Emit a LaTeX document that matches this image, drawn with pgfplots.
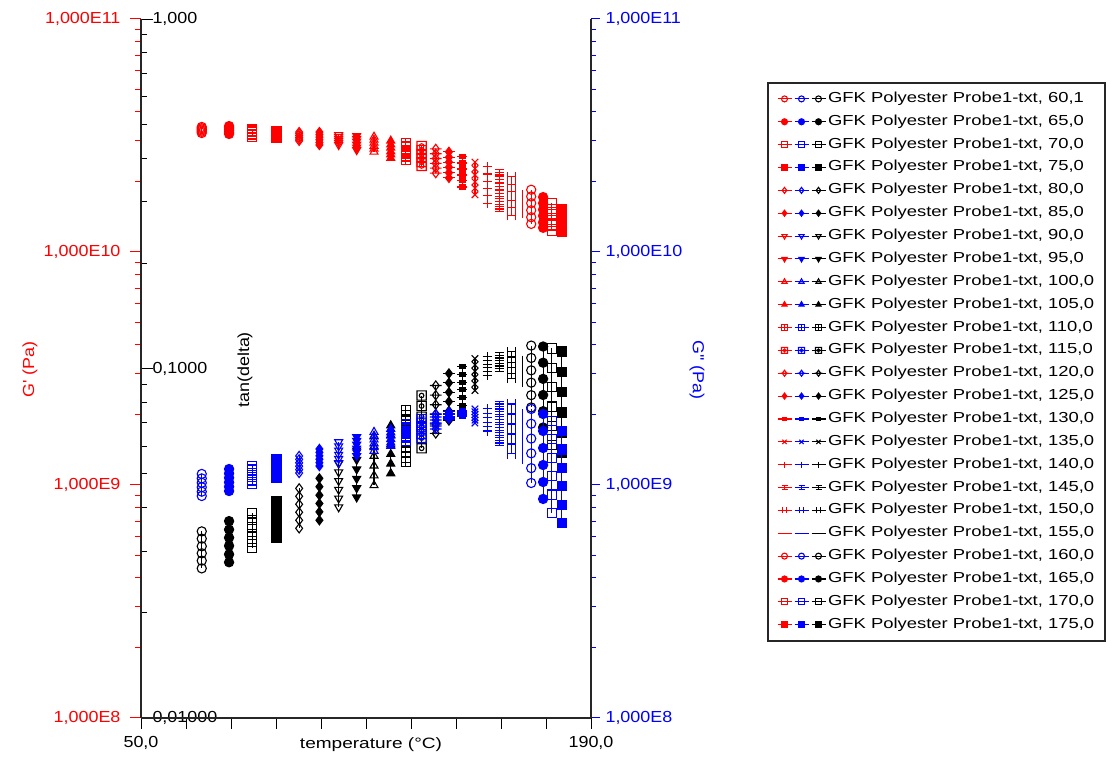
\documentclass[border=0pt]{standalone}
\usepackage{fontspec}
\setmainfont{Liberation Sans}[FakeStretch=1.12]
\newfontfamily\legfont{Liberation Sans}[FakeStretch=1.27]
\usepackage{pgfplots}
\usepackage{pgfplotstable}
\pgfplotsset{compat=1.18}

% ---- custom marks ----
\pgfdeclareplotmark{boxplus}{%
 \pgfpathrectangle{\pgfqpoint{-\pgfplotmarksize}{-\pgfplotmarksize}}{\pgfqpoint{2\pgfplotmarksize}{2\pgfplotmarksize}}%
 \pgfpathmoveto{\pgfqpoint{-\pgfplotmarksize}{0pt}}\pgfpathlineto{\pgfqpoint{\pgfplotmarksize}{0pt}}%
 \pgfpathmoveto{\pgfqpoint{0pt}{-\pgfplotmarksize}}\pgfpathlineto{\pgfqpoint{0pt}{\pgfplotmarksize}}%
 \pgfusepathqstroke}
\pgfdeclareplotmark{boxcirc}{%
 \pgfpathrectangle{\pgfqpoint{-\pgfplotmarksize}{-\pgfplotmarksize}}{\pgfqpoint{2\pgfplotmarksize}{2\pgfplotmarksize}}%
 \pgfpathcircle{\pgfpointorigin}{0.5\pgfplotmarksize}%
 \pgfusepathqstroke}
\pgfdeclareplotmark{dplus}{%
 \pgfpathmoveto{\pgfqpoint{0pt}{\pgfplotmarksize}}\pgfpathlineto{\pgfqpoint{0.75\pgfplotmarksize}{0pt}}%
 \pgfpathlineto{\pgfqpoint{0pt}{-\pgfplotmarksize}}\pgfpathlineto{\pgfqpoint{-0.75\pgfplotmarksize}{0pt}}\pgfpathclose
 \pgfpathmoveto{\pgfqpoint{-1.3\pgfplotmarksize}{0pt}}\pgfpathlineto{\pgfqpoint{1.3\pgfplotmarksize}{0pt}}%
 \pgfusepathqstroke}
\pgfdeclareplotmark{dplusfill}{%
 \pgfpathmoveto{\pgfqpoint{0pt}{\pgfplotmarksize}}\pgfpathlineto{\pgfqpoint{0.75\pgfplotmarksize}{0pt}}%
 \pgfpathlineto{\pgfqpoint{0pt}{-\pgfplotmarksize}}\pgfpathlineto{\pgfqpoint{-0.75\pgfplotmarksize}{0pt}}\pgfpathclose
 \pgfusepathqfillstroke
 \pgfpathmoveto{\pgfqpoint{-1.3\pgfplotmarksize}{0pt}}\pgfpathlineto{\pgfqpoint{1.3\pgfplotmarksize}{0pt}}%
 \pgfusepathqstroke}
\pgfdeclareplotmark{rectbar}{%
 \pgfpathrectangle{\pgfqpoint{-0.6\pgfplotmarksize}{-0.45\pgfplotmarksize}}{\pgfqpoint{1.2\pgfplotmarksize}{0.9\pgfplotmarksize}}%
 \pgfusepathqfillstroke
 \pgfpathmoveto{\pgfqpoint{-1.1\pgfplotmarksize}{0pt}}\pgfpathlineto{\pgfqpoint{1.1\pgfplotmarksize}{0pt}}%
 \pgfusepathqstroke}
\pgfdeclareplotmark{ibeam}{%
 \pgfpathmoveto{\pgfqpoint{-\pgfplotmarksize}{0.6\pgfplotmarksize}}\pgfpathlineto{\pgfqpoint{\pgfplotmarksize}{0.6\pgfplotmarksize}}%
 \pgfpathmoveto{\pgfqpoint{-\pgfplotmarksize}{-0.6\pgfplotmarksize}}\pgfpathlineto{\pgfqpoint{\pgfplotmarksize}{-0.6\pgfplotmarksize}}%
 \pgfpathmoveto{\pgfqpoint{-\pgfplotmarksize}{0pt}}\pgfpathlineto{\pgfqpoint{\pgfplotmarksize}{0pt}}%
 \pgfpathmoveto{\pgfqpoint{0pt}{-0.6\pgfplotmarksize}}\pgfpathlineto{\pgfqpoint{0pt}{0.6\pgfplotmarksize}}%
 \pgfusepathqstroke}
\pgfdeclareplotmark{Hmark}{%
 \pgfpathmoveto{\pgfqpoint{-0.8\pgfplotmarksize}{-\pgfplotmarksize}}\pgfpathlineto{\pgfqpoint{-0.8\pgfplotmarksize}{\pgfplotmarksize}}%
 \pgfpathmoveto{\pgfqpoint{0.8\pgfplotmarksize}{-\pgfplotmarksize}}\pgfpathlineto{\pgfqpoint{0.8\pgfplotmarksize}{\pgfplotmarksize}}%
 \pgfpathmoveto{\pgfqpoint{-0.8\pgfplotmarksize}{0pt}}\pgfpathlineto{\pgfqpoint{0.8\pgfplotmarksize}{0pt}}%
 \pgfusepathqstroke}

\pgfplotsset{
 m1/.style={mark=o}, m2/.style={mark=*}, m3/.style={mark=square}, m4/.style={mark=square*},
 m5/.style={mark=diamond}, m6/.style={mark=diamond*},
 m7/.style={mark=triangle, mark options={rotate=180}}, m8/.style={mark=triangle*, mark options={rotate=180}},
 m9/.style={mark=triangle}, m10/.style={mark=triangle*},
 m11/.style={mark=boxplus}, m12/.style={mark=boxcirc}, m13/.style={mark=dplus}, m14/.style={mark=dplusfill},
 m15/.style={mark=rectbar}, m16/.style={mark=x}, m17/.style={mark=+}, m18/.style={mark=ibeam},
 m19/.style={mark=Hmark}, m20/.style={mark=none},
 m21/.style={mark=o}, m22/.style={mark=*}, m23/.style={mark=square}, m24/.style={mark=square*},
}

% ---- data: T, G' (Pa), G'' (Pa), tan(delta) ----
\pgfplotstableread{
T Gp Gpp tan
68.9 3.24e10 8.97e8 0.0342
68.9 3.28e10 9.36e8 0.0326
68.9 3.32e10 9.78e8 0.0310
68.9 3.36e10 1.022e9 0.0296
68.9 3.40e10 1.067e9 0.0282
68.9 3.44e10 1.115e9 0.0268
}\tA
\pgfplotstableread{
T Gp Gpp tan
77.4 3.21e10 9.42e8 0.0366
77.4 3.26e10 9.83e8 0.0346
77.4 3.31e10 1.027e9 0.0328
77.4 3.37e10 1.073e9 0.0311
77.4 3.42e10 1.121e9 0.0294
77.4 3.47e10 1.171e9 0.0279
}\tB
\pgfplotstableread{
T Gp Gpp tan
84.6 3.12e10 1.010e9 0.0385
84.6 3.17e10 1.046e9 0.0368
84.6 3.22e10 1.084e9 0.0351
84.6 3.27e10 1.123e9 0.0335
84.6 3.32e10 1.164e9 0.0320
84.6 3.37e10 1.206e9 0.0306
}\tC
\pgfplotstableread{
T Gp Gpp tan
92.2 3.09e10 1.072e9 0.0417
92.2 3.14e10 1.113e9 0.0397
92.2 3.17e10 1.155e9 0.0378
92.2 3.22e10 1.199e9 0.0360
92.2 3.26e10 1.245e9 0.0343
92.2 3.31e10 1.293e9 0.0327
}\tD
\pgfplotstableread{
T Gp Gpp tan
99.2 3.00e10 1.126e9 0.0454
99.2 3.05e10 1.164e9 0.0431
99.2 3.10e10 1.204e9 0.0409
99.2 3.16e10 1.245e9 0.0388
99.2 3.22e10 1.288e9 0.0368
99.2 3.27e10 1.332e9 0.0349
}\tE
\pgfplotstableread{
T Gp Gpp tan
105.5 2.88e10 1.206e9 0.0485
105.5 2.95e10 1.247e9 0.0459
105.5 3.03e10 1.290e9 0.0434
105.5 3.11e10 1.334e9 0.0411
105.5 3.19e10 1.380e9 0.0389
105.5 3.27e10 1.427e9 0.0368
}\tF
\pgfplotstableread{
T Gp Gpp tan
111.5 2.88e10 1.243e9 0.0535
111.5 2.94e10 1.295e9 0.0505
111.5 3.00e10 1.350e9 0.0477
111.5 3.06e10 1.407e9 0.0450
111.5 3.12e10 1.467e9 0.0425
111.5 3.18e10 1.529e9 0.0401
}\tG
\pgfplotstableread{
T Gp Gpp tan
117.1 2.74e10 1.332e9 0.0583
117.1 2.81e10 1.383e9 0.0548
117.1 2.89e10 1.436e9 0.0515
117.1 2.98e10 1.491e9 0.0484
117.1 3.06e10 1.548e9 0.0455
117.1 3.15e10 1.607e9 0.0428
}\tH
\pgfplotstableread{
T Gp Gpp tan
122.5 2.69e10 1.399e9 0.0639
122.5 2.77e10 1.452e9 0.0599
122.5 2.85e10 1.508e9 0.0562
122.5 2.94e10 1.566e9 0.0527
122.5 3.03e10 1.626e9 0.0494
122.5 3.12e10 1.688e9 0.0463
}\tI
\pgfplotstableread{
T Gp Gpp tan
127.7 2.53e10 1.470e9 0.0687
127.7 2.62e10 1.520e9 0.0645
127.7 2.70e10 1.572e9 0.0606
127.7 2.80e10 1.626e9 0.0569
127.7 2.89e10 1.681e9 0.0534
127.7 3.00e10 1.739e9 0.0501
}\tJ
\pgfplotstableread{
T Gp Gpp tan
132.4 2.48e10 1.545e9 0.0759
132.4 2.57e10 1.597e9 0.0708
132.4 2.65e10 1.652e9 0.0661
132.4 2.74e10 1.708e9 0.0618
132.4 2.84e10 1.767e9 0.0577
132.4 2.94e10 1.827e9 0.0539
}\tK
\pgfplotstableread{
T Gp Gpp tan
137.3 2.34e10 1.591e9 0.0837
137.3 2.43e10 1.652e9 0.0781
137.3 2.53e10 1.715e9 0.0728
137.3 2.63e10 1.781e9 0.0679
137.3 2.74e10 1.849e9 0.0633
137.3 2.85e10 1.920e9 0.0591
}\tL
\pgfplotstableread{
T Gp Gpp tan
141.7 2.18e10 1.739e9 0.0894
141.7 2.29e10 1.791e9 0.0839
141.7 2.40e10 1.845e9 0.0788
141.7 2.52e10 1.901e9 0.0740
141.7 2.64e10 1.958e9 0.0694
141.7 2.77e10 2.017e9 0.0652
}\tM
\pgfplotstableread{
T Gp Gpp tan
145.8 2.08e10 1.920e9 0.0968
145.8 2.19e10 1.947e9 0.0910
145.8 2.31e10 1.974e9 0.0855
145.8 2.43e10 2.002e9 0.0804
145.8 2.55e10 2.030e9 0.0756
145.8 2.69e10 2.058e9 0.0710
}\tN
\pgfplotstableread{
T Gp Gpp tan
150.0 1.90e10 1.978e9 0.1013
150.0 2.02e10 1.997e9 0.0962
150.0 2.14e10 2.017e9 0.0914
150.0 2.27e10 2.037e9 0.0869
150.0 2.41e10 2.057e9 0.0825
150.0 2.56e10 2.078e9 0.0784
}\tO
\pgfplotstableread{
T Gp Gpp tan
153.9 1.76e10 1.845e9 0.1068
153.9 1.88e10 1.897e9 0.1024
153.9 2.00e10 1.950e9 0.0982
153.9 2.14e10 2.005e9 0.0941
153.9 2.28e10 2.062e9 0.0903
153.9 2.43e10 2.120e9 0.0865
}\tP
\pgfplotstableread{
T Gp Gpp tan
157.7 1.62e10 1.705e9 0.1082
157.7 1.75e10 1.780e9 0.1055
157.7 1.88e10 1.860e9 0.1029
157.7 2.01e10 1.943e9 0.1004
157.7 2.16e10 2.029e9 0.0979
157.7 2.32e10 2.120e9 0.0955
}\tQ
\pgfplotstableread{
T Gp Gpp tan
161.5 1.53e10 1.514e9 0.1089
161.5 1.65e10 1.636e9 0.1071
161.5 1.78e10 1.767e9 0.1053
161.5 1.91e10 1.909e9 0.1035
161.5 2.05e10 2.062e9 0.1017
161.5 2.20e10 2.227e9 0.1000
}\tR
\pgfplotstableread{
T Gp Gpp tan
165.3 1.43e10 1.359e9 0.1118
165.3 1.55e10 1.499e9 0.1079
165.3 1.67e10 1.655e9 0.1041
165.3 1.81e10 1.827e9 0.1005
165.3 1.95e10 2.017e9 0.0970
165.3 2.10e10 2.227e9 0.0936
}\tS
\pgfplotstableread{
T Gp Gpp tan
168.6 1.40e10 1.231e9 0.1089
168.6 1.49e10 1.372e9 0.1044
168.6 1.57e10 1.529e9 0.1001
168.6 1.66e10 1.705e9 0.0960
168.6 1.75e10 1.901e9 0.0920
168.6 1.85e10 2.120e9 0.0883
}\tT
\pgfplotstableread{
T Gp Gpp tan
171.4 1.32e10 1.020e9 0.1163
171.4 1.41e10 1.181e9 0.1072
171.4 1.51e10 1.367e9 0.0988
171.4 1.62e10 1.582e9 0.0911
171.4 1.73e10 1.832e9 0.0839
171.4 1.85e10 2.120e9 0.0774
}\tU
\pgfplotstableread{
T Gp Gpp tan
175.1 1.27e10 8.71e8 0.1156
175.1 1.34e10 1.030e9 0.1039
175.1 1.43e10 1.218e9 0.0934
175.1 1.52e10 1.441e9 0.0840
175.1 1.62e10 1.705e9 0.0755
175.1 1.72e10 2.017e9 0.0678
}\tV
\pgfplotstableread{
T Gp Gpp tan
177.8 1.23e10 7.58e8 0.1141
177.8 1.30e10 9.09e8 0.1004
177.8 1.37e10 1.091e9 0.0884
177.8 1.45e10 1.308e9 0.0778
177.8 1.53e10 1.570e9 0.0685
177.8 1.62e10 1.883e9 0.0603
}\tW
\pgfplotstableread{
T Gp Gpp tan
180.9 1.22e10 6.87e8 0.1118
180.9 1.27e10 8.23e8 0.0978
180.9 1.33e10 9.88e8 0.0855
180.9 1.40e10 1.185e9 0.0748
180.9 1.46e10 1.421e9 0.0654
180.9 1.53e10 1.705e9 0.0572
}\tX

\pgfplotsset{
 common/.style={
  at={(141pt,38pt)}, anchor=south west,
  width=450pt, height=699pt, scale only axis,
  xmin=50, xmax=190,
  axis line style={black!85, line width=1.6pt},
  tick label style={font=\fontsize{16}{18}\selectfont},
  major tick length=11pt, minor tick length=6pt,
  every axis plot/.append style={line width=1.1pt, mark size=4.6pt},
 },
}

\begin{document}
\begin{tikzpicture}
\useasboundingbox (0,0) rectangle (1113pt,756pt);

% ---------- tan(delta) axis (black) with legend ----------
\begin{axis}[common,
  ymode=log, ymin=0.01, ymax=1,
  hide x axis,
  axis y line*=left,
  ytick={0.01,0.1,1},
  yticklabels={{0,01000},{0,1000},{1,000}},
  minor ytick={0.02,0.03,0.04,0.05,0.06,0.07,0.08,0.09,0.2,0.3,0.4,0.5,0.6,0.7,0.8,0.9},
  ytick align=inside,
  major tick length=12pt,
  ytick style={black, line width=1pt},
  yticklabel style={anchor=west, xshift=8pt},
  ylabel={tan(delta)},
  every axis y label/.style={at={(axis description cs:0.2311,0.498)}, anchor=center, rotate=90,
     font=\fontsize{16}{18}\selectfont},
  legend cell align=left,
  legend style={at={(1.391,0.910)}, anchor=north west, draw=black!85, line width=2pt, fill=white,
    font=\legfont\fontsize{14.5}{17}\selectfont, row sep=8.86pt, inner xsep=9pt, inner ysep=9pt,
    nodes={inner ysep=0pt, inner xsep=2pt, text height=10.5pt, text depth=3.5pt, line width=1pt}},
  legend image code/.code={
    \draw[mark repeat=2,mark phase=2,#1,red,mark size=3pt] plot coordinates {(0pt,0pt)(7pt,0pt)(14pt,0pt)};
    \draw[mark repeat=2,mark phase=2,#1,blue,mark size=3pt] plot coordinates {(17pt,0pt)(24pt,0pt)(31pt,0pt)};
    \draw[mark repeat=2,mark phase=2,#1,black,mark size=3pt] plot coordinates {(34pt,0pt)(41pt,0pt)(48pt,0pt)};
  },
]
\addplot[black,m1] table[x=T,y=tan]{\tA}; \addlegendentry{GFK Polyester Probe1-txt, 60,1}
\addplot[black,m2] table[x=T,y=tan]{\tB}; \addlegendentry{GFK Polyester Probe1-txt, 65,0}
\addplot[black,m3] table[x=T,y=tan]{\tC}; \addlegendentry{GFK Polyester Probe1-txt, 70,0}
\addplot[black,m4] table[x=T,y=tan]{\tD}; \addlegendentry{GFK Polyester Probe1-txt, 75,0}
\addplot[black,m5] table[x=T,y=tan]{\tE}; \addlegendentry{GFK Polyester Probe1-txt, 80,0}
\addplot[black,m6] table[x=T,y=tan]{\tF}; \addlegendentry{GFK Polyester Probe1-txt, 85,0}
\addplot[black,m7] table[x=T,y=tan]{\tG}; \addlegendentry{GFK Polyester Probe1-txt, 90,0}
\addplot[black,m8] table[x=T,y=tan]{\tH}; \addlegendentry{GFK Polyester Probe1-txt, 95,0}
\addplot[black,m9] table[x=T,y=tan]{\tI}; \addlegendentry{GFK Polyester Probe1-txt, 100,0}
\addplot[black,m10] table[x=T,y=tan]{\tJ}; \addlegendentry{GFK Polyester Probe1-txt, 105,0}
\addplot[black,m11] table[x=T,y=tan]{\tK}; \addlegendentry{GFK Polyester Probe1-txt, 110,0}
\addplot[black,m12] table[x=T,y=tan]{\tL}; \addlegendentry{GFK Polyester Probe1-txt, 115,0}
\addplot[black,m13] table[x=T,y=tan]{\tM}; \addlegendentry{GFK Polyester Probe1-txt, 120,0}
\addplot[black,m14] table[x=T,y=tan]{\tN}; \addlegendentry{GFK Polyester Probe1-txt, 125,0}
\addplot[black,m15] table[x=T,y=tan]{\tO}; \addlegendentry{GFK Polyester Probe1-txt, 130,0}
\addplot[black,m16] table[x=T,y=tan]{\tP}; \addlegendentry{GFK Polyester Probe1-txt, 135,0}
\addplot[black,m17] table[x=T,y=tan]{\tQ}; \addlegendentry{GFK Polyester Probe1-txt, 140,0}
\addplot[black,m18] table[x=T,y=tan]{\tR}; \addlegendentry{GFK Polyester Probe1-txt, 145,0}
\addplot[black,m19] table[x=T,y=tan]{\tS}; \addlegendentry{GFK Polyester Probe1-txt, 150,0}
\addplot[black,m20] table[x=T,y=tan]{\tT}; \addlegendentry{GFK Polyester Probe1-txt, 155,0}
\addplot[black,m21] table[x=T,y=tan]{\tU}; \addlegendentry{GFK Polyester Probe1-txt, 160,0}
\addplot[black,m22] table[x=T,y=tan]{\tV}; \addlegendentry{GFK Polyester Probe1-txt, 165,0}
\addplot[black,m23] table[x=T,y=tan]{\tW}; \addlegendentry{GFK Polyester Probe1-txt, 170,0}
\addplot[black,m24] table[x=T,y=tan]{\tX}; \addlegendentry{GFK Polyester Probe1-txt, 175,0}
\end{axis}

% ---------- G' (red, left) and x axis ----------
\begin{axis}[common,
  ymode=log, ymin=1e8, ymax=1e11,
  ytick={1e8,1e9,1e10,1e11},
  yticklabels={{1,000E8},{1,000E9},{1,000E10},{1,000E11}},
  minor ytick={2e8,3e8,4e8,5e8,6e8,7e8,8e8,9e8,2e9,3e9,4e9,5e9,6e9,7e9,8e9,9e9,2e10,3e10,4e10,5e10,6e10,7e10,8e10,9e10},
  ytick align=outside,
  axis x line*=bottom, axis y line*=left,
  xtick={50,64,...,190},
  xticklabels={{50,0},{},{},{},{},{},{},{},{},{},{190,0}},
  xtick align=outside,
  xtick style={black, line width=1pt},
  xticklabel style={yshift=-4pt},
  ytick style={red, line width=1pt},
  yticklabel style={red, xshift=-6pt},
  xlabel={temperature (°C)},
  every axis x label/.style={at={(axis description cs:0.5111,0)}, anchor=center, yshift=-27pt,
     font=\legfont\fontsize{15}{17}\selectfont},
  ylabel={G\textquotesingle\ (Pa)},
  every axis y label/.style={at={(axis description cs:-0.2467,0.498)}, anchor=center, rotate=90, red,
     font=\fontsize{16}{18}\selectfont},
]
\addplot[red,m1] table[x=T,y=Gp]{\tA};
\addplot[red,m2] table[x=T,y=Gp]{\tB};
\addplot[red,m3] table[x=T,y=Gp]{\tC};
\addplot[red,m4] table[x=T,y=Gp]{\tD};
\addplot[red,m5] table[x=T,y=Gp]{\tE};
\addplot[red,m6] table[x=T,y=Gp]{\tF};
\addplot[red,m7] table[x=T,y=Gp]{\tG};
\addplot[red,m8] table[x=T,y=Gp]{\tH};
\addplot[red,m9] table[x=T,y=Gp]{\tI};
\addplot[red,m10] table[x=T,y=Gp]{\tJ};
\addplot[red,m11] table[x=T,y=Gp]{\tK};
\addplot[red,m12] table[x=T,y=Gp]{\tL};
\addplot[red,m13] table[x=T,y=Gp]{\tM};
\addplot[red,m14] table[x=T,y=Gp]{\tN};
\addplot[red,m15] table[x=T,y=Gp]{\tO};
\addplot[red,m16] table[x=T,y=Gp]{\tP};
\addplot[red,m17] table[x=T,y=Gp]{\tQ};
\addplot[red,m18] table[x=T,y=Gp]{\tR};
\addplot[red,m19] table[x=T,y=Gp]{\tS};
\addplot[red,m20] table[x=T,y=Gp]{\tT};
\addplot[red,m21] table[x=T,y=Gp]{\tU};
\addplot[red,m22] table[x=T,y=Gp]{\tV};
\addplot[red,m23] table[x=T,y=Gp]{\tW};
\addplot[red,m24] table[x=T,y=Gp]{\tX};
\end{axis}

% ---------- G'' (blue, right) ----------
\begin{axis}[common,
  ymode=log, ymin=1e8, ymax=1e11,
  ytick={1e8,1e9,1e10,1e11},
  yticklabels={{1,000E8},{1,000E9},{1,000E10},{1,000E11}},
  minor ytick={2e8,3e8,4e8,5e8,6e8,7e8,8e8,9e8,2e9,3e9,4e9,5e9,6e9,7e9,8e9,9e9,2e10,3e10,4e10,5e10,6e10,7e10,8e10,9e10},
  ytick align=outside,
  hide x axis,
  axis y line*=right,
  major tick length=9pt, minor tick length=5pt,
  ytick style={blue, line width=1pt},
  yticklabel style={blue, xshift=2pt},
  ylabel={G\textquotesingle\textquotesingle\ (Pa)},
  every axis y label/.style={at={(axis description cs:1.2356,0.498)}, anchor=center, rotate=-90, blue,
     font=\fontsize{16}{18}\selectfont},
]
\addplot[blue,m1] table[x=T,y=Gpp]{\tA};
\addplot[blue,m2] table[x=T,y=Gpp]{\tB};
\addplot[blue,m3] table[x=T,y=Gpp]{\tC};
\addplot[blue,m4] table[x=T,y=Gpp]{\tD};
\addplot[blue,m5] table[x=T,y=Gpp]{\tE};
\addplot[blue,m6] table[x=T,y=Gpp]{\tF};
\addplot[blue,m7] table[x=T,y=Gpp]{\tG};
\addplot[blue,m8] table[x=T,y=Gpp]{\tH};
\addplot[blue,m9] table[x=T,y=Gpp]{\tI};
\addplot[blue,m10] table[x=T,y=Gpp]{\tJ};
\addplot[blue,m11] table[x=T,y=Gpp]{\tK};
\addplot[blue,m12] table[x=T,y=Gpp]{\tL};
\addplot[blue,m13] table[x=T,y=Gpp]{\tM};
\addplot[blue,m14] table[x=T,y=Gpp]{\tN};
\addplot[blue,m15] table[x=T,y=Gpp]{\tO};
\addplot[blue,m16] table[x=T,y=Gpp]{\tP};
\addplot[blue,m17] table[x=T,y=Gpp]{\tQ};
\addplot[blue,m18] table[x=T,y=Gpp]{\tR};
\addplot[blue,m19] table[x=T,y=Gpp]{\tS};
\addplot[blue,m20] table[x=T,y=Gpp]{\tT};
\addplot[blue,m21] table[x=T,y=Gpp]{\tU};
\addplot[blue,m22] table[x=T,y=Gpp]{\tV};
\addplot[blue,m23] table[x=T,y=Gpp]{\tW};
\addplot[blue,m24] table[x=T,y=Gpp]{\tX};
\end{axis}
\end{tikzpicture}
\end{document}
